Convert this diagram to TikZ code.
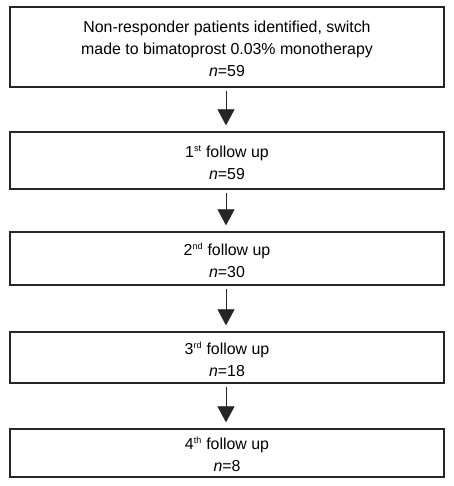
\documentclass[tikz,border=0pt]{standalone}
\usepackage{fontspec}
\setmainfont{Liberation Sans}
\usetikzlibrary{arrows.meta}
\tikzset{
  flowbox/.style={draw=black!85, line width=1.3pt, minimum width=434pt, align=center, inner sep=0pt,
    font=\fontsize{15.9}{22}\selectfont},
  flowarrow/.style={draw=black!85, line width=0.8pt, -{Triangle[width=17pt,length=16pt]}, shorten <=3pt, shorten >=6pt}
}
\newcommand{\sups}[1]{\textsuperscript{\fontsize{9}{9}\selectfont #1}}
\begin{document}
\begin{tikzpicture}[x=1pt,y=1pt]
\fill[white] (0,0) rectangle (453,486);
\useasboundingbox (0,0) rectangle (453,486);
\node[flowbox, minimum height=80pt] (b1) at (227,439) {\rule{0pt}{16pt}Non-responder patients identified, switch\\made to bimatoprost 0.03\% monotherapy\\\textit{n}=59};
\node[flowbox, minimum height=57pt] (b2) at (227,325.5) {\rule{0pt}{16pt}1\sups{st} follow up\\\textit{n}=59};
\node[flowbox, minimum height=53pt] (b3) at (227,227.5) {\rule{0pt}{16pt}2\sups{nd} follow up\\\textit{n}=30};
\node[flowbox, minimum height=51pt] (b4) at (227,128.5) {\rule{0pt}{16pt}3\sups{rd} follow up\\\textit{n}=18};
\node[flowbox, minimum height=48pt] (b5) at (227,33) {\rule{0pt}{16pt}4\sups{th} follow up\\\textit{n}=8};
\draw[flowarrow] (b1.south -| 226,0) -- (b2.north -| 226,0);
\draw[flowarrow] (b2.south -| 226,0) -- (b3.north -| 226,0);
\draw[flowarrow] (b3.south -| 226,0) -- (b4.north -| 226,0);
\draw[flowarrow] (b4.south -| 226,0) -- (b5.north -| 226,0);
\end{tikzpicture}
\end{document}
